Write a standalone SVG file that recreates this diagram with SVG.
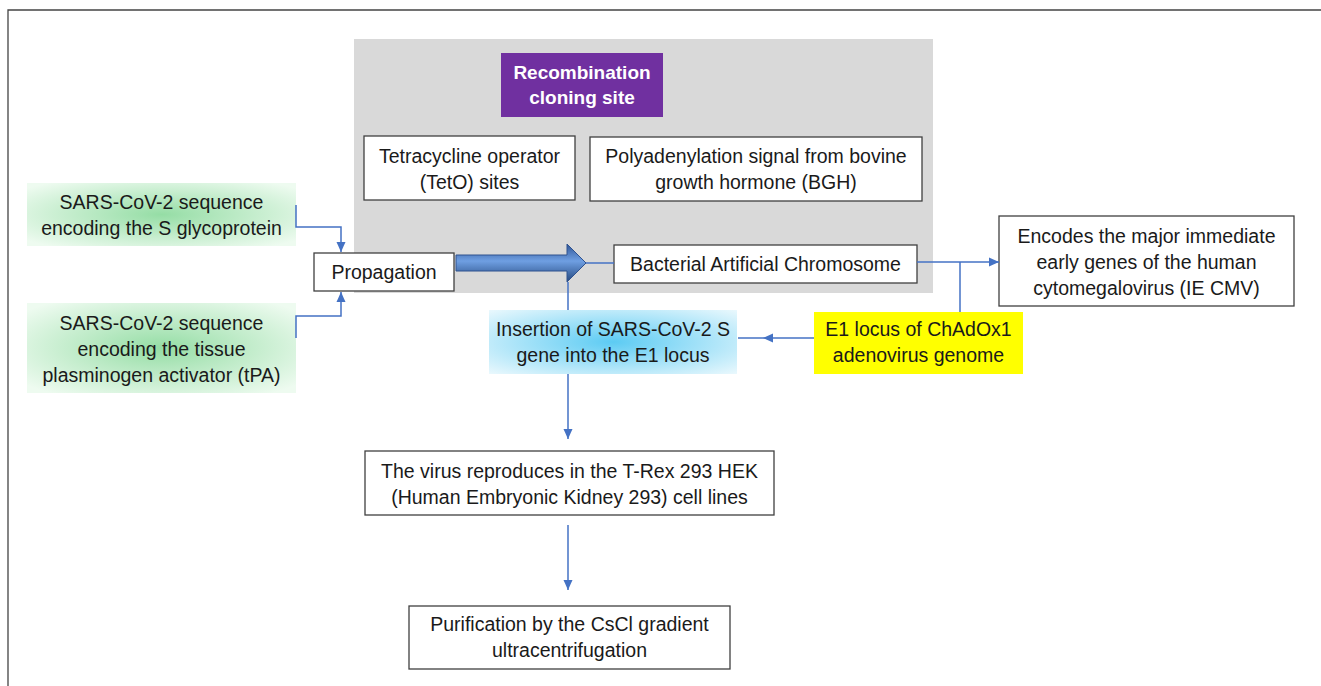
<svg xmlns="http://www.w3.org/2000/svg" width="1321" height="686" viewBox="0 0 1321 686">
<style>
text{font-family:"Liberation Sans",Arial,sans-serif;font-size:19.5px;fill:#1a1a1a;text-anchor:middle}
.box{fill:#fff;stroke:#404040;stroke-width:1.3}
.con{fill:none;stroke:#4472C4;stroke-width:1.5}
.title{fill:#fff;font-weight:bold;font-size:19px}
</style>
<defs>
<radialGradient id="gGreen" cx="50%" cy="50%" r="65%">
<stop offset="0" stop-color="#95dda5"/>
<stop offset="1" stop-color="#eefbf0"/>
</radialGradient>
<radialGradient id="gBlue" cx="50%" cy="50%" r="70%">
<stop offset="0" stop-color="#5ccbf3"/>
<stop offset="1" stop-color="#e9f8fd"/>
</radialGradient>
<linearGradient id="gArrow" x1="0" y1="0" x2="0" y2="1">
<stop offset="0" stop-color="#2f5597"/>
<stop offset="0.45" stop-color="#6f9fe2"/>
<stop offset="1" stop-color="#24487f"/>
</linearGradient>
<marker id="ah" markerUnits="userSpaceOnUse" markerWidth="10" markerHeight="10" viewBox="0 0 10 10" refX="10" refY="5" orient="auto">
<path d="M0,0.5 L10,5 L0,9.5 Z" fill="#4472C4"/>
</marker>
</defs>

<path d="M8,692 V10 H1325" fill="none" stroke="#444" stroke-width="1.3"/>

<g id="vector-region">
<rect x="354" y="39" width="579" height="254" fill="#d9d9d9"/>
</g>

<g id="recombination">
<rect x="501" y="53" width="162" height="64" fill="#7030a0"/>
<text class="title" x="582" y="79">Recombination</text>
<text class="title" x="582" y="104">cloning site</text>
</g>

<g id="teto">
<rect class="box" x="364" y="136" width="211" height="64"/>
<text x="469.5" y="163">Tetracycline operator</text>
<text x="469.5" y="189">(TetO) sites</text>
</g>

<g id="bgh">
<rect class="box" x="590" y="137" width="332" height="64"/>
<text x="756" y="163">Polyadenylation signal from bovine</text>
<text x="756" y="189">growth hormone (BGH)</text>
</g>

<g id="s-glyco">
<rect x="27" y="183" width="269" height="63" fill="url(#gGreen)"/>
<text x="161.5" y="209">SARS-CoV-2 sequence</text>
<text x="161.5" y="235">encoding the S glycoprotein</text>
</g>

<g id="tpa">
<rect x="27" y="303" width="269" height="90" fill="url(#gGreen)"/>
<text x="161.5" y="330">SARS-CoV-2 sequence</text>
<text x="161.5" y="356">encoding the tissue</text>
<text x="161.5" y="382">plasminogen activator (tPA)</text>
</g>

<g id="propagation">
<rect class="box" x="314" y="253" width="140" height="38"/>
<text x="384" y="279">Propagation</text>
</g>

<g id="big-arrow">
<path d="M456,255 H567 V244 L586,263 L567,282 V271 H456 Z" fill="url(#gArrow)" stroke="#2f528f" stroke-width="1"/>
</g>

<g id="bac">
<rect class="box" x="614" y="245" width="303" height="38"/>
<text x="765.5" y="271">Bacterial Artificial Chromosome</text>
</g>

<g id="ie-cmv">
<rect class="box" x="999" y="216" width="295" height="90"/>
<text x="1146.5" y="243">Encodes the major immediate</text>
<text x="1146.5" y="269">early genes of the human</text>
<text x="1146.5" y="295">cytomegalovirus (IE CMV)</text>
</g>

<g id="insertion">
<rect x="489" y="310" width="248" height="64" fill="url(#gBlue)"/>
<text x="613" y="336">Insertion of SARS-CoV-2 S</text>
<text x="613" y="362">gene into the E1 locus</text>
</g>

<g id="e1-locus">
<rect x="814" y="312" width="209" height="62" fill="#ffff00"/>
<text x="918.5" y="336">E1 locus of ChAdOx1</text>
<text x="918.5" y="362">adenovirus genome</text>
</g>

<g id="hek">
<rect class="box" x="365" y="451" width="409" height="64"/>
<text x="569.5" y="478">The virus reproduces in the T-Rex 293 HEK</text>
<text x="569.5" y="504">(Human Embryonic Kidney 293) cell lines</text>
</g>

<g id="purification">
<rect class="box" x="409" y="606" width="321" height="63"/>
<text x="569.5" y="631">Purification by the CsCl gradient</text>
<text x="569.5" y="657">ultracentrifugation</text>
</g>

<g id="connectors">
<path class="con" d="M296,205 V227 H341 V252" marker-end="url(#ah)"/>
<path class="con" d="M296,338 V316 H341 V292" marker-end="url(#ah)"/>
<path class="con" d="M586,263 H614"/>
<path class="con" d="M917,262 H999" marker-end="url(#ah)"/>
<path class="con" d="M960,262 V312"/>
<path class="con" d="M814,338 H763" marker-end="url(#ah)"/>
<path class="con" d="M763,338 H738"/>
<path class="con" d="M568,282 V310"/>
<path class="con" d="M568,374 V439" marker-end="url(#ah)"/>
<path class="con" d="M568,525 V590" marker-end="url(#ah)"/>
</g>
</svg>
